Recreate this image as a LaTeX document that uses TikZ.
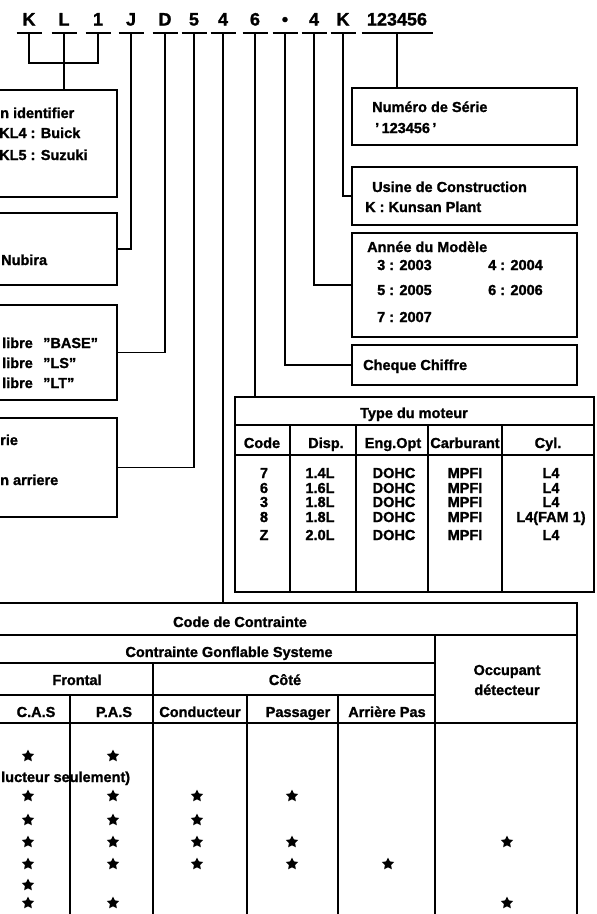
\documentclass[tikz,border=0pt]{standalone}
\usepackage{fontspec}
\setmainfont{Liberation Sans}[BoldFeatures={FakeBold=1.3}]
\usetikzlibrary{shapes.geometric,calc}
\tikzset{
  ln/.style={line width=1.7pt},
  box/.style={draw, line width=1.9pt, rectangle, inner sep=0pt, outer sep=0pt, anchor=north west},
  txt/.style={font=\fontsize{14.5}{16}\selectfont\bfseries, inner sep=0pt},
  lt/.style={txt, anchor=base west},
  ct/.style={txt, anchor=base},
  vin/.style={font=\fontsize{18}{20}\selectfont\bfseries, inner sep=0pt, anchor=base},
  starmark/.style={star, star points=5, star point ratio=2.0, fill=black, draw=none, inner sep=0pt, minimum size=13pt}
}
\begin{document}
\begin{tikzpicture}[x=1pt,y=-1pt]
\useasboundingbox[fill=white] (0,0) rectangle (597,914);
\coordinate (bar) at (0,33);
\coordinate (join) at (0,63);
% VIN characters
\foreach \t/\x/\n in {K/29/c1, L/64/c2, 1/98/c3, J/131/c4, D/165/c5, 5/194/c6, 4/223/c7, 6/255/c8, •/285/c9, 4/314/c10, K/343/c11}
  \node[vin] (\n) at (\x,25.5) {\t};
\node[vin] (c12) at (397,25.5) {123456};
% underbars
\foreach \n in {c1,c2,c3,c4,c5,c6,c7,c8,c9,c10,c11}
  \draw[ln] ($(\n |- bar)+(-12.5,0)$) -- ($(\n |- bar)+(12.5,0)$);
\draw[ln] ($(c12 |- bar)+(-35.5,0)$) -- ($(c12 |- bar)+(35.5,0)$);

% left boxes
\node[box, minimum width=127pt, minimum height=107pt] (b1) at (-10,90) {};
\node[box, minimum width=127pt, minimum height=72pt] (b2) at (-10,213) {};
\node[box, minimum width=127pt, minimum height=95pt] (b3) at (-10,305) {};
\node[box, minimum width=127pt, minimum height=99pt] (b4) at (-10,418) {};
% right boxes
\node[box, minimum width=225pt, minimum height=57pt] (b5) at (352,88) {};
\node[box, minimum width=225pt, minimum height=58pt] (b6) at (352,167) {};
\node[box, minimum width=225pt, minimum height=104pt] (b7) at (352,233) {};
\node[box, minimum width=225pt, minimum height=40pt] (b8) at (352,345) {};
% tables
\node[box, minimum width=359pt, minimum height=195pt] (et) at (235,397) {};
\node[box, minimum width=587pt, minimum height=330pt] (rt) at (-10,603) {};

% connectors
\draw[ln] (c1 |- bar) |- (c3 |- join) -- (c3 |- bar);
\draw[ln] (c2 |- bar) -- (b1.north -| c2);
\draw[ln] (c4 |- bar) |- (b2.east);
\draw[ln] (c5 |- bar) |- (b3.east);
\draw[ln] (c6 |- bar) |- (b4.east);
\draw[ln] (c7 |- bar) -- (c7 |- rt.north);
\draw[ln] (c8 |- bar) -- (c8 |- et.north);
\draw[ln] (c9 |- bar) |- (b8.west);
\draw[ln] (c10 |- bar) |- (b7.west);
\draw[ln] (c11 |- bar) |- (b6.west);
\draw[ln] (c12 |- bar) -- (c12 |- b5.north);

% left box texts
\node[lt] (t1a) at (0,118) {n identifier};
\node[lt] (t1b) at (-1,138) {KL4 : Buick};
\node[lt] (t1c) at (-1,160) {KL5 : Suzuki};
\node[lt] (t2a) at (1,265) {Nubira};
\node[lt] (t3a) at (2,348) {libre};
\node[lt] (t3b) at (2,368) {libre};
\node[lt] (t3c) at (2,388) {libre};
\node[lt] (t3d) at (43,348) {"BASE"};
\node[lt] (t3e) at (43,368) {"LS"};
\node[lt] (t3f) at (43,388) {"LT"};
\node[lt] (t4a) at (0,445) {rie};
\node[lt] (t4b) at (0,485) {n arriere};

% right box texts
\node[lt] (t5a) at (372,112) {Numéro de Série};
\node[lt] (t5b) at (375,133) {'\,123456\,'};
\node[lt] (t6a) at (372,192) {Usine de Construction};
\node[lt] (t6b) at (365,212) {K : Kunsan Plant};
\node[lt] (t7a) at (367,252) {Année du Modèle};
\node[lt] (t7b) at (377,270) {3 : 2003};
\node[lt] (t7c) at (488,270) {4 : 2004};
\node[lt] (t7d) at (377,295) {5 : 2005};
\node[lt] (t7e) at (488,295) {6 : 2006};
\node[lt] (t7f) at (377,322) {7 : 2007};
\node[lt] (t8a) at (363,370) {Cheque Chiffre};

% engine table grid
\draw[ln] (et.west |- 0,425) -- (et.east |- 0,425);
\draw[ln] (et.west |- 0,455) -- (et.east |- 0,455);
\foreach \x in {290,356,428,502}
  \draw[ln] (\x,425) -- (\x,592);
\node[ct] (eh0) at (414,418) {Type du moteur};
\node[ct] (eh1) at (262,448) {Code};
\node[ct] (eh2) at (326,448) {Disp.};
\node[ct] (eh3) at (393,448) {Eng.Opt};
\node[ct] (eh4) at (465,448) {Carburant};
\node[ct] (eh5) at (548,448) {Cyl.};
\foreach \c/\d/\cy/\y [count=\i] in {7/1.4L/L4/478, 6/1.6L/L4/493, 3/1.8L/L4/507, 8/1.8L/L4(FAM 1)/522, Z/2.0L/L4/540}{
  \node[ct] (ec\i) at (264,\y) {\c};
  \node[ct] (ed\i) at (320,\y) {\d};
  \node[ct] (eo\i) at (394,\y) {DOHC};
  \node[ct] (ef\i) at (465,\y) {MPFI};
  \node[ct] (ey\i) at (551,\y) {\cy};
}

% restraint table grid
\draw[ln] (-10,635) -- (577,635);
\draw[ln] (-10,663) -- (435,663);
\draw[ln] (-10,695) -- (435,695);
\draw[ln] (-10,723) -- (577,723);
\draw[ln] (435,635) -- (435,935);
\draw[ln] (153,663) -- (153,935);
\draw[ln] (70,695) -- (70,935);
\draw[ln] (247,695) -- (247,935);
\draw[ln] (338,695) -- (338,935);
\node[ct] (r1) at (240,627) {Code de Contrainte};
\node[ct] (r2) at (229,657) {Contrainte Gonflable Systeme};
\node[ct] (r3) at (77,685) {Frontal};
\node[ct] (r4) at (285,685) {Côté};
\node[ct] (r5) at (36,717) {C.A.S};
\node[ct] (r6) at (114,717) {P.A.S};
\node[ct] (r7) at (200,717) {Conducteur};
\node[ct] (r8) at (298,717) {Passager};
\node[ct] (r9) at (387,717) {Arrière Pas};
\node[ct] (r10) at (507,675) {Occupant};
\node[ct] (r11) at (507,695) {détecteur};
\node[lt] (r12) at (1,782) {lucteur seulement)};

% stars
\foreach \x/\y [count=\i] in {
  28/756, 113/756,
  28/796, 113/796, 197/796, 292/796,
  28/820, 113/820, 197/820,
  28/842, 113/842, 197/842, 292/842, 507/842,
  28/864, 113/864, 197/864, 292/864, 388/864,
  28/885,
  28/903, 113/903, 507/903}
  \node[starmark] (s\i) at (\x,\y) {};
\end{tikzpicture}
\end{document}
